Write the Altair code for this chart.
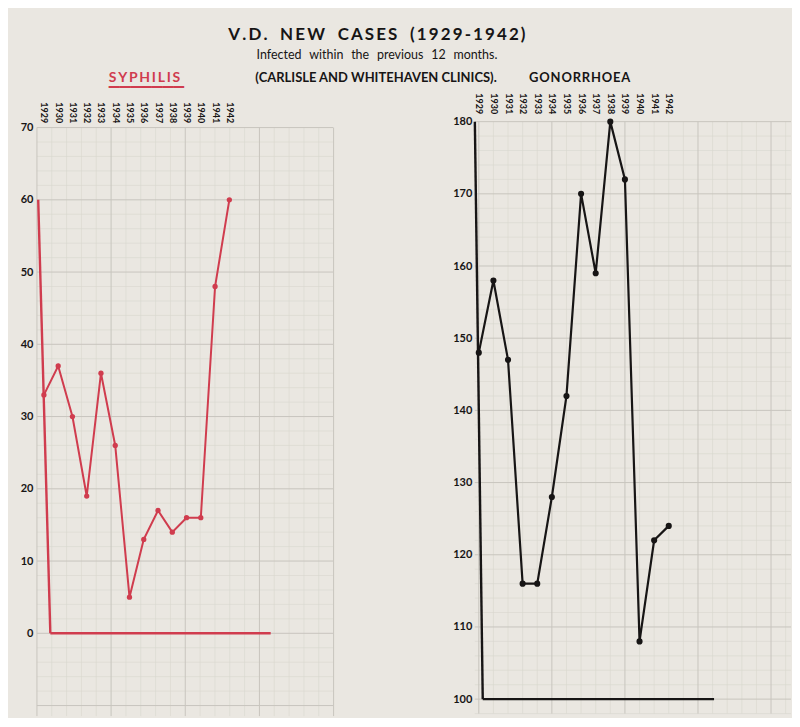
import altair as alt
import pandas as pd
import numpy as np

# ---------------- data ----------------
years = list(range(1929, 1943))
syphilis = [33, 37, 30, 19, 36, 26, 5, 13, 17, 14, 16, 16, 48, 60]
gonorrhoea = [148, 158, 147, 116, 116, 128, 142, 170, 159, 180, 172, 108, 122, 124]
syph_ticks = [0, 10, 20, 30, 40, 50, 60, 70]
gon_ticks = [100, 110, 120, 130, 140, 150, 160, 170, 180]

title_text = "V.D. NEW CASES (1929-1942)"
subtitle_text = "Infected within the previous 12 months."
clinics_text = "(CARLISLE AND WHITEHAVEN CLINICS)."
syph_title = "SYPHILIS"
gon_title = "GONORRHOEA"

# ---------------- styles ----------------
RED = "#d03c4e"
INK = "#171515"
PAPER = "#eae7e1"
MINOR = "#d9d6cf"
MAJOR = "#c8c5be"
FONT = "Lato"


def spaced(s, gap="\u2009", word="\u2002"):
    return (gap + word + gap).join(gap.join(w) for w in s.split(" "))


H = 598
WL, WR = 297, 317
XL = [1928.51, 1949.28]
YL = [-11.46, 71.1]
XR = [1928.727, 1950.366]
YR = [97.65, 180.28]


def axes(xdom, ydom, ticks, xoff, xpad, ypad):
    xa = alt.Axis(orient="top", values=years, format="d", labelAngle=90,
                  labelAlign="right", labelBaseline="middle",
                  labelFont=FONT, labelFontWeight="bold", labelFontSize=9,
                  labelColor=INK, ticks=False, domain=False, grid=False,
                  labelPadding=xpad, offset=xoff, title=None)
    ya = alt.Axis(values=ticks, labelFont=FONT, labelFontWeight="bold",
                  labelFontSize=11, labelColor=INK, ticks=False, domain=False,
                  grid=False, labelPadding=ypad, title=None)
    sx = alt.Scale(domain=xdom, nice=False, zero=False)
    sy = alt.Scale(domain=ydom, nice=False, zero=False)
    return xa, ya, sx, sy


def panel(vals, xdom, ydom, ticks, hvals, vvals, vmajor, width, gtop, gbottom,
          axis_pts, color, lw, size, xoff, xpad, ypad):
    xa, ya, sx, sy = axes(xdom, ydom, ticks, xoff, xpad, ypad)
    layers = []
    hdf = pd.DataFrame({"v": hvals, "major": [v % 10 == 0 for v in hvals]})
    vdf = pd.DataFrame({"x": vvals, "major": vmajor})
    for maj, col, sw in [(False, MINOR, 0.6), (True, MAJOR, 1.0)]:
        layers.append(
            alt.Chart(hdf[hdf.major == maj]).mark_rule(color=col, strokeWidth=sw).encode(
                y=alt.Y("v:Q", scale=sy, axis=ya),
                x=alt.value(0), x2=alt.value(width),
            )
        )
        layers.append(
            alt.Chart(vdf[vdf.major == maj]).mark_rule(color=col, strokeWidth=sw).encode(
                x=alt.X("x:Q", scale=sx, axis=xa),
                y=alt.YDatum(gtop, scale=sy, axis=ya), y2=alt.Y2Datum(gbottom),
            )
        )
    one = pd.DataFrame({"a": [0]})
    for (x1, y1, x2, y2) in axis_pts:
        layers.append(
            alt.Chart(one).mark_rule(color=color, strokeWidth=2.4).encode(
                x=alt.XDatum(x1, scale=sx, axis=xa), y=alt.YDatum(y1, scale=sy, axis=ya),
                x2=alt.X2Datum(x2), y2=alt.Y2Datum(y2),
            )
        )
    df = pd.DataFrame({"year": years, "value": vals})
    enc = dict(x=alt.X("year:Q", scale=sx, axis=xa), y=alt.Y("value:Q", scale=sy, axis=ya))
    layers.append(alt.Chart(df).mark_line(color=color, strokeWidth=lw).encode(**enc))
    layers.append(alt.Chart(df).mark_circle(color=color, size=size, opacity=1).encode(**enc))
    return alt.layer(*layers)


# ---------------- left panel: syphilis ----------------
left = panel(
    syphilis, XL, YL, syph_ticks, list(range(-10, 71, 2)),
    [XL[0] + k * 1.04 for k in range(21)], [k % 5 == 0 for k in range(21)],
    WL, 70, YL[0],
    [(1928.6, 60, 1929.45, 0), (1929.45, 0, 1944.9, 0)],
    RED, 2.0, 28, -6, 3, 4,
).properties(
    width=WL, height=H,
    title=alt.TitleParams(spaced(syph_title), subtitle="\u2594" * 7,
                          anchor="start", frame="group",
                          dx=72, offset=0, font=FONT, fontSize=14, fontWeight="bold",
                          color=RED, subtitleColor=RED, subtitleFont="DejaVu Sans",
                          subtitleFontSize=14, subtitlePadding=3),
)

# ---------------- right panel: gonorrhoea ----------------
right = panel(
    gonorrhoea, XR, YR, gon_ticks, list(range(98, 181, 2)),
    [1929 + k for k in range(22)], [k % 5 == 0 for k in range(22)],
    WR, 180, 98,
    [(1928.73, 180, 1929.27, 100), (1929.27, 100, 1945.1, 100)],
    INK, 2.2, 38, 0, 6, 3,
).properties(
    width=WR, height=H,
    title=alt.TitleParams(clinics_text + "\u2002" * 5 + spaced(gon_title, gap="\u200a"),
                          anchor="start", frame="group", dx=-220, offset=8, font=FONT,
                          fontSize=13, fontWeight="bold", color=INK),
)

chart = alt.hconcat(left, right, spacing=142, bounds="flush").properties(
    title=alt.TitleParams(
        spaced(title_text),
        subtitle=[subtitle_text.replace(" ", "\u2002\u2009")],
        anchor="middle", dx=-29, offset=8, font=FONT, fontSize=17, fontWeight="bold",
        color=INK, subtitleFont=FONT, subtitleFontSize=12.5, subtitleColor=INK,
        subtitlePadding=5),
    padding={"left": 12, "top": 17, "right": 0, "bottom": 0},
    background=PAPER,
).configure_view(strokeWidth=0)

chart.save("out.html", embed_options={"renderer": "svg", "actions": False})
